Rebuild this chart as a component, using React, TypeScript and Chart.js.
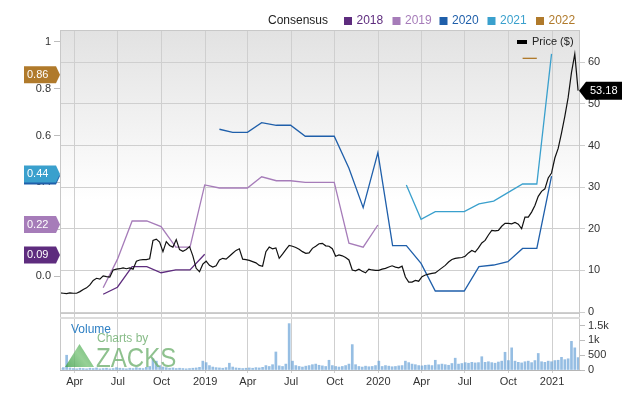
import React, { useEffect, useRef } from "react";
import { Chart, registerables } from "chart.js";

Chart.register(...registerables);

const FONT = "'Liberation Sans', Arial, Helvetica, sans-serif";

// ---- axis / categories ----
const axisStart = "2018-03-01";
const axisEnd = "2021-03-01";
const tickDates = ["2018-04-01", "2018-07-01", "2018-10-01", "2019-01-01", "2019-04-01", "2019-07-01", "2019-10-01", "2020-01-01", "2020-04-01", "2020-07-01", "2020-10-01", "2021-01-01"];
const tickLabels = ["Apr", "Jul", "Oct", "2019", "Apr", "Jul", "Oct", "2020", "Apr", "Jul", "Oct", "2021"];
const epsTicks = [0, 0.2, 0.4, 0.6, 0.8, 1];
const priceTicks = [0, 10, 20, 30, 40, 50, 60];
const volumeTicks = [0, 500, 1000, 1500];

// ---- consensus series ----
const c2018Dates = ["2018-05-31", "2018-06-30", "2018-07-31", "2018-08-31", "2018-09-30", "2018-10-31", "2018-11-30", "2018-12-31"];
const c2018Values = [-0.078, -0.048, 0.04, 0.04, 0.014, 0.026, 0.026, 0.093];

const c2019Dates = ["2018-05-31", "2018-06-30", "2018-07-31", "2018-08-31", "2018-09-30", "2018-10-31", "2018-11-30", "2018-12-31", "2019-01-31", "2019-02-28", "2019-03-31", "2019-04-30", "2019-05-31", "2019-06-30", "2019-07-31", "2019-08-31", "2019-09-30", "2019-10-31", "2019-11-30", "2019-12-31"];
const c2019Values = [-0.05, 0.071, 0.235, 0.235, 0.211, 0.123, 0.123, 0.389, 0.376, 0.376, 0.376, 0.424, 0.407, 0.407, 0.4, 0.4, 0.4, 0.14, 0.123, 0.218];

const c2020Dates = ["2019-01-31", "2019-02-28", "2019-03-31", "2019-04-30", "2019-05-31", "2019-06-30", "2019-07-31", "2019-08-31", "2019-09-30", "2019-10-31", "2019-11-30", "2019-12-31", "2020-01-31", "2020-02-29", "2020-03-31", "2020-04-30", "2020-05-31", "2020-06-30", "2020-07-31", "2020-08-31", "2020-09-30", "2020-10-31", "2020-11-30", "2020-12-31"];
const c2020Values = [0.627, 0.614, 0.614, 0.655, 0.644, 0.644, 0.597, 0.597, 0.597, 0.46, 0.292, 0.527, 0.13, 0.13, 0.054, -0.064, -0.064, -0.064, 0.04, 0.047, 0.061, 0.118, 0.118, 0.427];

const c2021Dates = ["2020-02-29", "2020-03-31", "2020-04-30", "2020-05-31", "2020-06-30", "2020-07-31", "2020-08-31", "2020-09-30", "2020-10-31", "2020-11-30", "2020-12-31"];
const c2021Values = [0.389, 0.242, 0.275, 0.275, 0.275, 0.308, 0.32, 0.356, 0.393, 0.393, 0.949];

const c2022Dates = ["2020-10-31", "2020-11-30"];
const c2022Values = [0.93, 0.93];

const seriesYears = ["2018", "2019", "2020", "2021", "2022"];
const seriesColors = ["#5e2c7e", "#a67cb9", "#1f5faa", "#3aa0cd", "#b07a2b"];

// latest consensus tags (drawn in this order)
const tagYears = ["2020", "2021", "2022", "2019", "2018"];
const tagValues = [0.427, 0.436, 0.86, 0.22, 0.09];
const tagTexts = ["0.43", "0.44", "0.86", "0.22", "0.09"];

// ---- price (weekly closes from first date) ----
const priceStart = "2018-03-01";
const priceStepDays = 7;
const priceValues = [
  4.6, 4.5, 4.4, 4.6, 4.5, 4.5, 4.9, 5.4, 5.8, 6.5,
  7.6, 8.1, 7.9, 8.7, 8.5, 8.4, 10.1, 10.3, 10.4, 10.6,
  10.4, 10.6, 10.3, 12.2, 12.5, 12.6, 12.6, 12.8, 17.2, 17.5,
  16.8, 14.5, 16.9, 16.0, 15.6, 17.4, 15.0, 14.6, 15.0, 15.7,
  13.5, 10.5, 9.7, 11.5, 12.2, 11.2, 10.8, 11.1, 12.5, 12.9,
  12.7, 13.4, 14.1, 14.8, 15.2, 12.7, 12.6, 12.4, 12.1, 11.8,
  11.2, 11.0, 14.5, 15.6, 15.2, 15.4, 12.9, 13.9, 15.0, 16.0,
  15.8, 15.5, 15.1, 14.5, 14.1, 14.2, 15.3, 15.8, 16.4, 16.5,
  15.9, 15.8, 15.2, 13.4, 13.7, 13.5, 13.1, 12.5, 10.1, 9.9,
  10.3, 9.8, 9.4, 10.3, 10.1, 10.0, 10.0, 10.3, 10.5, 10.8,
  11.1, 10.8, 10.6, 11.0, 8.4, 7.2, 7.2, 7.6, 7.4, 8.5,
  8.9, 9.1, 9.3, 9.4, 10.0, 10.6, 11.2, 12.0, 12.6, 12.9,
  13.0, 13.1, 13.4, 14.2, 14.8, 14.4, 15.4, 16.6, 17.2, 18.5,
  19.6, 19.5, 19.6, 20.6, 21.3, 21.3, 21.2, 21.5, 21.1, 20.0,
  22.8, 22.8, 24.0, 25.6, 27.8, 29.0, 29.6, 32.2, 33.4, 37.0,
  39.3, 43.0, 47.0, 51.5, 57.5, 62.0, 53.18,
];
const lastPrice = 53.18;

// ---- volume (weekly) ----
const volumeValues = [
  60, 80, 500, 70, 50, 40, 60, 50, 40, 60,
  50, 70, 40, 50, 60, 40, 50, 80, 60, 50,
  40, 60, 50, 80, 60, 50, 90, 120, 380, 300,
  150, 100, 80, 60, 70, 50, 60, 50, 40, 50,
  60, 70, 90, 300, 250, 150, 100, 80, 70, 60,
  80, 230, 100, 70, 60, 50, 60, 70, 60, 80,
  70, 90, 150, 120, 180, 610, 140, 120, 200, 1570,
  300, 150, 120, 100, 130, 150, 180, 200, 160, 140,
  120, 330, 150, 120, 100, 120, 150, 200, 860, 180,
  120, 100, 130, 110, 120, 150, 300, 120, 150, 130,
  110, 120, 140, 150, 300, 250, 200, 180, 150, 140,
  160, 170, 150, 330, 180, 200, 180, 160, 220, 400,
  200, 220, 250, 230, 260, 240, 250, 450, 260, 280,
  250, 230, 270, 300, 600, 320, 750, 300, 260, 240,
  280, 300, 250, 320, 560, 280, 260, 300, 280, 320,
  330, 430, 350, 380, 970, 750, 420,
];

// ---- helpers ----
const START_MS = Date.parse(axisStart + "T00:00:00Z");
const dayOf = (s: string) => (Date.parse(s + "T00:00:00Z") - START_MS) / 86400000;
const toPts = (dates: string[], vals: number[]) => dates.map((d, i) => ({ x: dayOf(d), y: vals[i] }));
const tickDays = tickDates.map(dayOf);
const GRID = "#cfcfcf";

function lineDs(label: string, dates: string[], vals: number[], color: string) {
  return {
    label,
    data: toPts(dates, vals),
    yAxisID: "eps",
    borderColor: color,
    borderWidth: 1.3,
    pointRadius: 0,
    fill: false,
    tension: 0,
  };
}

const mainPlugin = {
  id: "mainDeco",
  beforeDraw(chart: any) {
    const { ctx, chartArea: a } = chart;
    ctx.save();
    ctx.fillStyle = "#ffffff";
    ctx.fillRect(0, 0, chart.width, chart.height);
    const g = ctx.createLinearGradient(0, a.top, 0, 200);
    g.addColorStop(0, "#e2e2e2");
    g.addColorStop(1, "#ffffff");
    ctx.fillStyle = g;
    ctx.fillRect(a.left, a.top, a.right - a.left, a.bottom - a.top);
    ctx.restore();
  },
  afterDraw(chart: any) {
    const { ctx, chartArea: a } = chart;
    const eps = chart.scales.eps;
    const price = chart.scales.price;
    ctx.save();
    // border
    ctx.strokeStyle = "#c8c8c8";
    ctx.lineWidth = 1;
    ctx.strokeRect(Math.round(a.left) + 0.5, Math.round(a.top) + 0.5, a.right - a.left - 1, a.bottom - a.top);

    // top legend
    ctx.textBaseline = "middle";
    ctx.font = "12px " + FONT;
    ctx.fillStyle = "#222";
    ctx.textAlign = "left";
    ctx.fillText("Consensus", 268, 21);
    const sq = [344, 392.5, 439.5, 487.5, 536];
    seriesYears.forEach((y, i) => {
      ctx.fillStyle = seriesColors[i];
      ctx.fillRect(sq[i], 17, 8, 8);
      ctx.fillText(y, sq[i] + 12.5, 21);
    });

    // price legend
    ctx.fillStyle = "#000";
    ctx.fillRect(517, 40, 10, 4);
    ctx.fillStyle = "#222";
    ctx.font = "11px " + FONT;
    ctx.fillText("Price ($)", 532, 42);

    // EPS tags
    tagYears.forEach((yr, i) => {
      const y = eps.getPixelForValue(tagValues[i]);
      ctx.fillStyle = seriesColors[seriesYears.indexOf(yr)];
      ctx.beginPath();
      ctx.moveTo(24, y - 8.5);
      ctx.lineTo(56, y - 8.5);
      ctx.lineTo(60, y);
      ctx.lineTo(56, y + 8.5);
      ctx.lineTo(24, y + 8.5);
      ctx.closePath();
      ctx.fill();
      ctx.fillStyle = "#ffffff";
      ctx.font = "11px " + FONT;
      ctx.textAlign = "left";
      ctx.fillText(tagTexts[i], 27, y + 0.5);
    });

    // price tag
    const py = price.getPixelForValue(lastPrice);
    ctx.fillStyle = "#000";
    ctx.beginPath();
    ctx.moveTo(579, py);
    ctx.lineTo(586, py - 9);
    ctx.lineTo(622, py - 9);
    ctx.lineTo(622, py + 9);
    ctx.lineTo(586, py + 9);
    ctx.closePath();
    ctx.fill();
    ctx.fillStyle = "#fff";
    ctx.font = "11px " + FONT;
    ctx.fillText(lastPrice.toFixed(2), 590, py + 0.5);
    ctx.restore();
  },
};

const volPlugin = {
  id: "volDeco",
  afterDraw(chart: any) {
    const { ctx, chartArea: a } = chart;
    ctx.save();
    ctx.strokeStyle = "#c8c8c8";
    ctx.lineWidth = 1;
    ctx.beginPath();
    ctx.moveTo(a.left + 0.5, a.top);
    ctx.lineTo(a.left + 0.5, a.bottom);
    ctx.moveTo(a.right - 0.5, a.top);
    ctx.lineTo(a.right - 0.5, a.bottom);
    ctx.moveTo(a.left, a.top + 0.5);
    ctx.lineTo(a.right, a.top + 0.5);
    ctx.stroke();
    ctx.strokeStyle = "#dcdcdc";
    ctx.lineWidth = 2;
    ctx.beginPath();
    ctx.moveTo(a.left, a.top + 5);
    ctx.lineTo(a.right, a.top + 5);
    ctx.stroke();

    // "Volume"
    ctx.textBaseline = "middle";
    ctx.textAlign = "left";
    ctx.font = "12px " + FONT;
    ctx.fillStyle = "#2f80c4";
    ctx.fillText("Volume", 71, 329.5);

    // Zacks watermark
    ctx.globalAlpha = 0.8;
    ctx.fillStyle = "#6aab6a";
    ctx.font = "12px " + FONT;
    ctx.fillText("Charts by", 97, 339);
    ctx.beginPath();
    ctx.moveTo(65, 367);
    ctx.lineTo(79.5, 344);
    ctx.lineTo(94, 367);
    ctx.closePath();
    const tg = ctx.createLinearGradient(65, 367, 94, 344);
    tg.addColorStop(0, "#3e9e4a");
    tg.addColorStop(0.5, "#7cc57c");
    tg.addColorStop(1, "#4aa653");
    ctx.fillStyle = tg;
    ctx.fill();
    ctx.save();
    ctx.translate(96, 367);
    ctx.scale(0.86, 1);
    ctx.font = "28px " + FONT;
    ctx.textBaseline = "alphabetic";
    ctx.fillStyle = "#72b272";
    ctx.fillText("ZACKS", 0, 0);
    ctx.restore();
    ctx.restore();
  },
};

export default function App() {
  const mainRef = useRef<HTMLCanvasElement>(null);
  const volRef = useRef<HTMLCanvasElement>(null);

  useEffect(() => {
    Chart.defaults.font.family = FONT;
    Chart.defaults.font.size = 11;
    Chart.defaults.color = "#333";
    const endDay = dayOf(axisEnd);
    const p0 = dayOf(priceStart);

    const main = new Chart(mainRef.current as HTMLCanvasElement, {
      type: "line",
      data: {
        datasets: [
          {
            label: "Price ($)",
            data: priceValues.map((v, i) => ({ x: p0 + i * priceStepDays, y: v })),
            yAxisID: "price",
            borderColor: "#111",
            borderWidth: 1.2,
            pointRadius: 0,
            fill: false,
            tension: 0,
          } as any,
          lineDs("2018", c2018Dates, c2018Values, seriesColors[0]),
          lineDs("2019", c2019Dates, c2019Values, seriesColors[1]),
          lineDs("2020", c2020Dates, c2020Values, seriesColors[2]),
          lineDs("2021", c2021Dates, c2021Values, seriesColors[3]),
          lineDs("2022", c2022Dates, c2022Values, seriesColors[4]),
        ],
      },
      options: {
        responsive: false,
        animation: false,
        layout: { padding: { top: 30, bottom: 92, left: 0, right: 0 } },
        plugins: { legend: { display: false }, tooltip: { enabled: false } },
        scales: {
          x: {
            type: "linear",
            min: 0,
            max: endDay,
            afterBuildTicks: (s: any) => {
              s.ticks = tickDays.map((v) => ({ value: v }));
            },
            ticks: { display: false },
            grid: { color: GRID, drawTicks: false },
            border: { display: false },
            afterFit: (s: any) => {
              s.height = 0;
            },
          },
          eps: {
            type: "linear",
            position: "left",
            min: -0.158,
            max: 1.051,
            afterBuildTicks: (s: any) => {
              s.ticks = epsTicks.map((v) => ({ value: v }));
            },
            ticks: {
              callback: (v: any) => (Number(v) === 1 ? "1" : Number(v).toFixed(1)),
              color: "#333",
              padding: 3,
              font: { size: 11 },
            },
            grid: { drawOnChartArea: false, tickLength: 6, color: "#bdbdbd" },
            border: { display: false },
            afterFit: (s: any) => {
              s.width = 60;
            },
          },
          price: {
            type: "linear",
            position: "right",
            min: -0.24,
            max: 67.76,
            afterBuildTicks: (s: any) => {
              s.ticks = priceTicks.map((v) => ({ value: v }));
            },
            ticks: { color: "#333", padding: 3, font: { size: 11 } },
            grid: { color: GRID, tickLength: 5 },
            border: { display: false },
            afterFit: (s: any) => {
              s.width = 60;
            },
          },
        },
      } as any,
      plugins: [mainPlugin],
    });

    const vol = new Chart(volRef.current as HTMLCanvasElement, {
      type: "bar",
      data: {
        datasets: [
          {
            label: "Volume",
            data: volumeValues.map((v, i) => ({ x: p0 + i * priceStepDays, y: v })),
            yAxisID: "vol",
            backgroundColor: "rgba(105,163,215,0.7)",
            barThickness: 2,
          } as any,
        ],
      },
      options: {
        responsive: false,
        animation: false,
        layout: { padding: { top: 313, bottom: 0, left: 60, right: 0 } },
        plugins: { legend: { display: false }, tooltip: { enabled: false } },
        scales: {
          x: {
            type: "linear",
            min: 0,
            max: endDay,
            offset: false,
            afterBuildTicks: (s: any) => {
              s.ticks = tickDays.map((v) => ({ value: v }));
            },
            ticks: {
              callback: (_v: any, i: number) => tickLabels[i],
              autoSkip: false,
              maxRotation: 0,
              color: "#333",
              padding: 2,
              font: { size: 11 },
            },
            grid: { color: GRID, tickLength: 3, offset: false },
            border: { color: "#b5b5b5" },
            afterFit: (s: any) => {
              s.height = 35;
            },
          },
          vol: {
            type: "linear",
            position: "right",
            min: 0,
            max: 1930,
            afterBuildTicks: (s: any) => {
              s.ticks = volumeTicks.map((v) => ({ value: v }));
            },
            ticks: {
              callback: (v: any) => (Number(v) >= 1000 ? Number(v) / 1000 + "k" : String(v)),
              color: "#333",
              padding: 3,
              font: { size: 11 },
            },
            grid: { drawOnChartArea: false, tickLength: 5, color: "#bdbdbd" },
            border: { display: false },
            afterFit: (s: any) => {
              s.width = 60;
            },
          },
        },
      } as any,
      plugins: [volPlugin],
    });

    return () => {
      main.destroy();
      vol.destroy();
    };
  }, []);

  return (
    <div style={{ position: "fixed", left: 0, top: 0, width: 640, height: 405, background: "#fff" }}>
      <canvas ref={mainRef} width={640} height={405} style={{ position: "absolute", left: 0, top: 0 }} />
      <canvas ref={volRef} width={640} height={405} style={{ position: "absolute", left: 0, top: 0 }} />
    </div>
  );
}
